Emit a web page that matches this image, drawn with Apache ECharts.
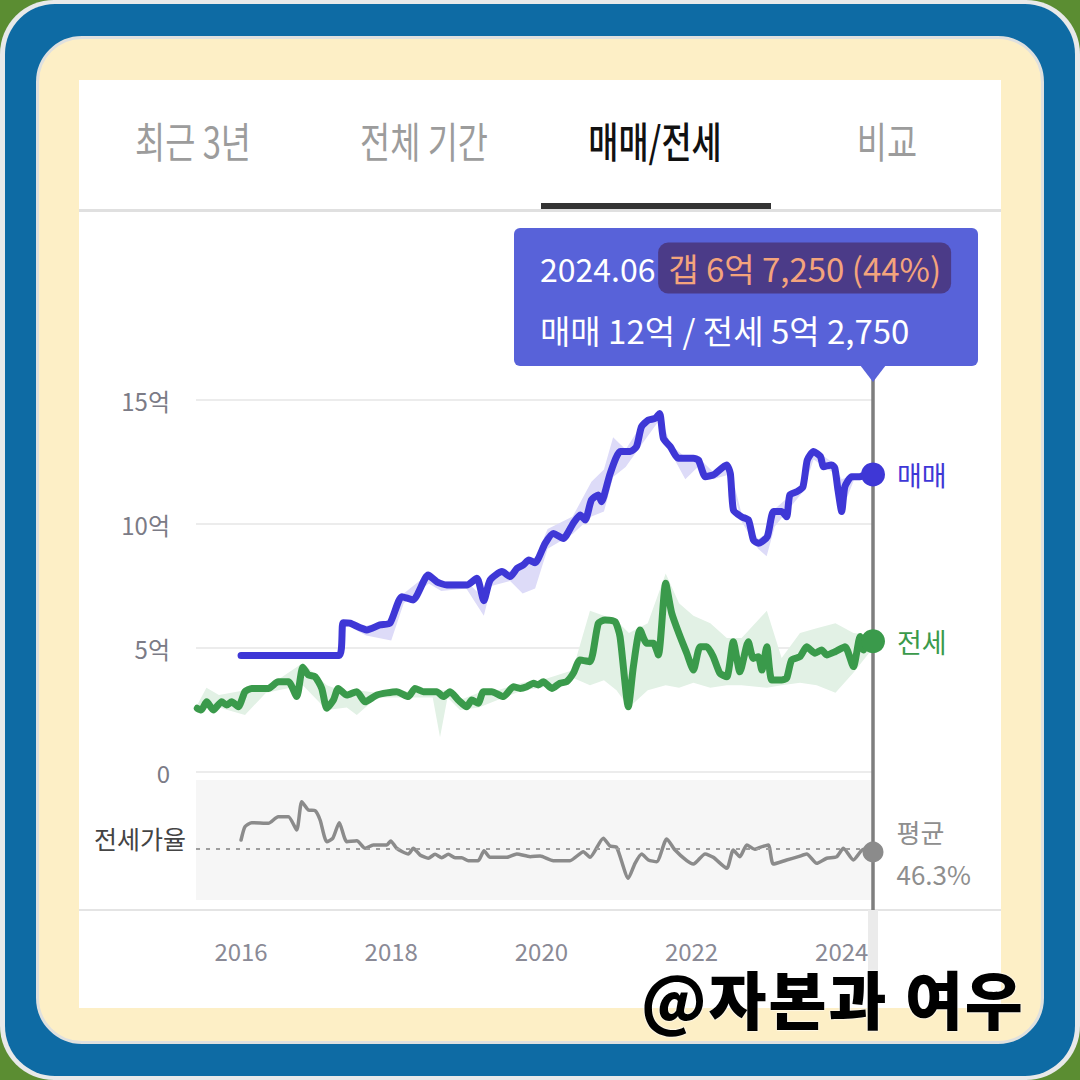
<!DOCTYPE html>
<html><head><meta charset="utf-8">
<script src="https://cdn.jsdelivr.net/npm/echarts@6/dist/echarts.min.js"></script>
<style>
html,body{margin:0;padding:0;width:1080px;height:1080px;overflow:hidden;background:#5b8d32;font-family:"Noto Sans CJK KR","Noto Sans",sans-serif;}
#outer{position:absolute;left:0;top:0;width:1080px;height:1080px;border-radius:54px;background:#e8e9e9;}
#blue{position:absolute;left:5px;top:4px;right:5px;bottom:4px;border-radius:50px;background:#0e6ba4;}
#cream{position:absolute;left:36px;top:36px;width:1002px;height:1002px;border:3px solid #dfe0de;border-radius:46px;background:#fdefc6;}
#panel{position:absolute;left:79px;top:80px;width:922px;height:928px;background:#fff;}
.tab{position:absolute;top:112px;height:56px;line-height:56px;font-size:42px;color:#9c9c9c;transform:translateX(-50%) scaleX(0.78);white-space:nowrap;}
.tab.on{color:#111;font-weight:500;}
#bar{position:absolute;left:541px;top:203px;width:230px;height:6px;background:#333;}
#divider{position:absolute;left:79px;top:209px;width:922px;height:3px;background:#e0e0e0;}
#bottomline{position:absolute;left:79px;top:909px;width:922px;height:2px;background:#e4e4e4;}
#chart{position:absolute;left:0;top:0;width:1080px;height:1080px;}
#mark{position:absolute;left:641px;top:973px;height:48px;line-height:48px;font-size:63px;font-weight:900;color:#000;white-space:nowrap;letter-spacing:2px;
  text-shadow:0 0 2px #fff,0 0 2px #fff;}
</style></head>
<body>
<div id="outer"></div><div id="blue"></div><div id="cream"></div><div id="panel"></div>
<div id="tabs"></div>
<div id="bar"></div><div id="divider"></div><div id="bottomline"></div>
<div id="chart"></div>
<div id="mark">@자본과 여우</div>
<script>
// ---------- data ----------
const tabs = ['최근 3년', '전체 기간', '매매/전세', '비교'];
const activeTab = 2;
const yearTicks = [2016, 2018, 2020, 2022, 2024];
const priceTicks = [0, 5, 10, 15];
const ratioAvg = 46.3;

// 매매 (억)
const maemae = [
['2016-01-01',4.70],['2017-04-22',4.70],['2017-05-10',6.02],['2017-06-13',6.00],['2017-09-04',5.73],
['2017-11-07',5.93],['2017-12-25',6.00],['2018-02-22',7.07],['2018-04-16',6.94],['2018-06-28',7.94],
['2018-08-10',7.67],['2018-09-28',7.54],['2019-01-04',7.54],['2019-02-22',7.81],['2019-03-25',6.91],
['2019-04-25',7.74],['2019-06-22',8.08],['2019-08-01',7.88],['2019-09-04',8.21],['2019-10-04',8.35],
['2019-11-01',8.55],['2019-12-01',8.44],['2020-01-19',9.22],['2020-02-28',9.62],['2020-04-16',9.42],
['2020-06-04',10.03],['2020-07-07',10.36],['2020-08-01',10.16],['2020-09-01',10.97],['2020-10-04',11.17],
['2020-10-19',10.90],['2020-12-01',12.04],['2021-01-19',12.92],['2021-03-07',12.92],['2021-04-07',13.12],
['2021-05-01',13.92],['2021-06-04',14.19],['2021-07-07',14.26],['2021-07-28',14.46],['2021-08-16',13.45],
['2021-09-19',13.12],['2021-10-28',12.65],['2022-01-10',12.65],['2022-02-04',12.58],['2022-03-07',11.91],
['2022-04-16',11.98],['2022-06-19',12.38],['2022-07-07',12.04],['2022-07-22',10.56],['2022-09-01',10.29],
['2022-10-04',10.16],['2022-10-28',9.35],['2022-11-22',9.22],['2023-01-04',9.49],['2023-02-04',10.50],
['2023-03-13',10.50],['2023-04-07',10.29],['2023-04-22',11.17],['2023-05-25',11.30],['2023-06-25',11.50],
['2023-07-16',12.58],['2023-08-16',12.92],['2023-09-19',12.72],['2023-10-04',12.31],['2023-11-13',12.38],
['2023-11-28',12.25],['2023-12-13',11.37],['2024-01-01',10.50],['2024-01-16',11.50],['2024-02-19',11.91],
['2024-03-28',11.91],['2024-04-22',11.98],['2024-06-01',12.00]
];

// 전세 (억)
const jeonse = [
['2015-06-01',2.57],['2015-06-20',2.50],['2015-07-16',2.83],['2015-08-18',2.50],['2015-09-28',2.83],
['2015-10-22',2.70],['2015-11-16',2.83],['2015-12-18',2.63],['2016-01-20',3.24],['2016-02-22',3.37],
['2016-05-12',3.37],['2016-06-29',3.64],['2016-08-18',3.64],['2016-09-28',3.04],['2016-10-27',4.22],
['2016-11-24',3.91],['2016-12-26',3.84],['2017-01-28',3.37],['2017-02-22',2.57],['2017-03-24',2.90],
['2017-04-17',3.37],['2017-05-28',3.10],['2017-07-16',3.24],['2017-08-26',2.83],['2017-10-22',3.10],
['2018-01-27',3.24],['2018-03-23',3.04],['2018-04-25',3.37],['2018-06-05',3.24],['2018-08-09',3.24],
['2018-09-11',3.04],['2018-10-13',3.24],['2018-11-23',2.90],['2019-01-03',2.63],['2019-01-27',2.90],
['2019-02-28',2.77],['2019-03-23',3.24],['2019-05-03',3.24],['2019-06-29',3.04],['2019-08-17',3.44],
['2019-09-19',3.37],['2019-10-21',3.44],['2019-11-23',3.58],['2019-12-16',3.51],['2020-01-10',3.64],
['2020-02-21',3.37],['2020-03-30',3.58],['2020-05-02',3.64],['2020-06-04',3.98],['2020-07-06',4.52],
['2020-08-24',4.45],['2020-10-04',6.00],['2020-11-06',6.13],['2020-12-24',6.06],['2021-01-18',5.46],
['2021-02-28',2.63],['2021-03-22',4.25],['2021-04-24',5.73],['2021-05-26',5.19],['2021-06-28',5.19],
['2021-07-22',4.72],['2021-08-27',7.61],['2021-09-26',6.40],['2021-11-06',5.46],['2021-12-08',4.79],
['2022-01-10',4.11],['2022-02-12',5.05],['2022-03-14',5.05],['2022-04-15',4.65],['2022-05-17',3.98],
['2022-06-20',3.84],['2022-07-21',5.25],['2022-08-23',4.04],['2022-10-03',5.25],['2022-10-27',4.58],
['2022-11-21',4.65],['2022-12-08',4.11],['2023-01-02',5.05],['2023-01-26',3.71],['2023-03-13',3.71],
['2023-04-07',3.78],['2023-05-01',4.52],['2023-06-11',4.65],['2023-07-13',5.05],['2023-08-23',4.79],
['2023-09-25',4.92],['2023-10-19',4.72],['2023-11-29',4.85],['2024-01-17',5.05],['2024-02-27',4.25],
['2024-03-29',5.46],['2024-04-15',4.92],['2024-05-01',5.46],['2024-06-01',5.275]
];

// 전세가율 (%)
const ratio = [
['2016-01-01',53],['2016-01-20',63],['2016-02-22',66],['2016-05-12',65.5],['2016-06-29',70.5],
['2016-08-18',70.5],['2016-09-28',60.5],['2016-10-22',81.7],['2016-11-24',75.5],['2016-12-26',75],
['2017-01-20',68],['2017-02-22',51.7],['2017-03-21',54.3],['2017-04-22',66],['2017-05-28',51.7],
['2017-07-16',52.5],['2017-08-26',46.8],['2017-10-05',49.3],['2017-12-10',49.3],['2017-12-29',52.3],
['2018-01-27',46.8],['2018-03-23',42.5],['2018-04-17',46.8],['2018-05-19',41.8],['2018-06-29',39.3],
['2018-08-01',42.3],['2018-09-03',39.7],['2018-10-05',42.3],['2018-11-07',39.7],['2018-12-09',39.7],
['2019-01-11',37.5],['2019-02-28',37.5],['2019-03-26',45],['2019-04-25',40],['2019-07-15',40],
['2019-09-03',42.5],['2019-11-07',40.5],['2019-12-25',41],['2020-02-28',37.5],['2020-05-18',37.5],
['2020-07-22',44.2],['2020-08-24',40],['2020-10-28',54.3],['2020-11-30',48.5],['2021-01-02',47.5],
['2021-02-28',24.3],['2021-03-30',35.5],['2021-05-02',42.5],['2021-06-04',38],['2021-07-14',36.7],
['2021-09-02',53.8],['2021-10-12',45.5],['2021-12-08',37.5],['2022-01-10',35],['2022-03-06',42.5],
['2022-04-15',40],['2022-06-20',31.8],['2022-07-21',45.5],['2022-08-23',40.5],['2022-09-26',49.3],
['2022-11-05',46],['2022-11-29',47.5],['2023-01-09',49.3],['2023-02-03',35],['2023-04-07',38],
['2023-06-03',40.5],['2023-07-13',42.5],['2023-09-01',35.5],['2023-10-19',39.3],['2023-12-07',40.5],
['2024-01-09',46.8],['2024-02-27',38],['2024-04-15',46],['2024-06-01',44]
];

// ranges [date, low, high] (억)
const maemaeBand = [
['2017-05-10',6.0,6.05],['2017-09-01',5.5,5.9],['2018-01-01',5.3,6.1],['2018-03-01',6.8,7.2],
['2018-07-01',7.6,8.0],['2018-09-01',7.3,7.7],['2019-01-01',7.4,7.7],['2019-03-25',6.3,7.0],
['2019-05-01',7.5,7.9],['2019-08-01',7.7,8.1],['2019-10-01',7.2,8.4],['2019-12-01',7.4,8.6],
['2020-02-01',9.0,9.8],['2020-06-01',9.6,10.3],['2020-09-01',10.3,11.7],['2020-11-01',10.5,12.2],
['2020-12-15',11.9,13.5],['2021-02-15',12.3,13.0],['2021-05-01',13.2,14.0],['2021-07-28',14.2,14.5],
['2021-09-20',12.9,13.2],['2021-12-01',11.8,12.7],['2022-02-01',12.3,12.7],['2022-04-15',11.8,12.1],
['2022-07-01',12.0,12.4],['2022-09-01',10.1,10.4],['2022-11-20',9.0,9.4],['2023-01-01',8.7,9.6],
['2023-02-10',9.9,10.6],['2023-06-25',11.3,11.6],['2023-08-16',12.6,13.0],['2023-11-15',12.1,12.5],
['2024-01-01',10.5,11.8],['2024-03-01',11.8,12.0],['2024-06-01',12.0,12.0]
];
const jeonseBand = [
['2015-06-01',2.5,2.7],['2015-07-15',2.6,3.4],['2015-09-15',2.6,3.1],['2016-01-20',2.3,3.3],
['2016-05-01',3.2,3.4],['2016-10-27',3.5,4.4],['2017-02-22',2.5,3.5],['2017-05-28',2.6,3.2],
['2017-07-16',2.3,3.3],['2017-10-22',3.0,3.2],['2018-07-20',3.0,3.3],['2018-08-25',1.4,3.3],
['2018-10-01',3.0,3.3],['2018-12-01',2.5,2.9],['2019-03-01',2.6,3.2],['2019-06-01',2.9,3.3],
['2019-10-01',3.3,3.6],['2020-01-01',3.4,3.7],['2020-06-01',3.8,4.1],['2020-08-24',3.5,6.5],
['2020-11-01',3.7,6.3],['2021-01-01',3.3,6.1],['2021-03-01',2.6,5.6],['2021-06-01',3.3,6.0],
['2021-08-27',3.5,8.0],['2021-11-01',3.4,6.8],['2022-01-10',3.6,6.3],['2022-04-01',3.4,6.0],
['2022-06-20',3.5,5.4],['2022-09-01',3.5,5.4],['2023-01-02',3.4,6.5],['2023-03-13',3.5,4.6],
['2023-06-11',3.6,5.6],['2023-09-01',3.5,5.8],['2023-12-01',3.2,6.0],['2024-02-27',4.0,5.6],
['2024-06-01',5.0,5.5]
];

// ---------- helpers ----------
const BLUE = '#3e37d6', GREEN = '#3a9a4b', GRAY = '#8b8b8b', FONT = '"Noto Sans CJK KR","Noto Sans",sans-serif';
function toT(s){ const p = s.split('-').map(Number); return p[0] + (p[1]-1)/12 + ((p[2]||1)-1)/360; }
const pts = arr => arr.map(d => [toT(d[0]), d[1]]);
function fmtEok(v){ const e = Math.floor(v + 1e-9); const man = Math.round((v - e) * 10000);
  return man ? e + '억 ' + man.toLocaleString('en-US') : e + '억'; }

// tabs
const tabX = [193, 424, 655, 887];
const tabsEl = document.getElementById('tabs');
tabs.forEach((t, i) => { const d = document.createElement('div'); d.className = 'tab' + (i === activeTab ? ' on' : '');
  d.style.left = tabX[i] + 'px'; d.textContent = t; tabsEl.appendChild(d); });

const lastM = maemae[maemae.length-1], lastJ = jeonse[jeonse.length-1], lastR = ratio[ratio.length-1];
const lastT = toT(lastM[0]);
const dateLabel = lastM[0].slice(0,7).replace('-', '.');
const gapText = '갭 ' + fmtEok(lastM[1] - lastJ[1]) + ' (' + Math.round(lastJ[1] / lastM[1] * 100) + '%)';
const line2 = '매매 ' + fmtEok(lastM[1]) + ' / 전세 ' + fmtEok(lastJ[1]);

function band(data, color){
  return { type:'custom', xAxisIndex:0, yAxisIndex:0, z:1, silent:true, clip:false,
    data:[[toT(data[0][0]), data[0][1]]],
    renderItem:(params, api) => {
      const up = data.map(b => api.coord([toT(b[0]), b[2]]));
      const lo = data.map(b => api.coord([toT(b[0]), b[1]])).reverse();
      return { type:'polygon', shape:{ points: up.concat(lo) }, style:{ fill: color } };
    } };
}

const chart = echarts.init(document.getElementById('chart'), null, { renderer:'svg', width:1080, height:1080 });
const xMin = 2015.4;
chart.setOption({
  animation:false,
  textStyle:{ fontFamily: FONT },
  grid:[
    { left:196, right:207, top:400, height:372 },
    { left:196, right:207, top:780, height:120, show:true, backgroundColor:'#f6f6f6', borderWidth:0 }
  ],
  xAxis:[
    { type:'value', gridIndex:0, min:xMin, max:lastT, axisLabel:{show:false}, axisLine:{show:false}, axisTick:{show:false}, splitLine:{show:false} },
    { type:'value', gridIndex:1, min:xMin, max:lastT, axisLine:{show:false}, axisTick:{show:false}, splitLine:{show:false},
      axisLabel:{ customValues: yearTicks, formatter: v => String(Math.round(v)), color:'#8a8a96', fontSize:24, margin:38, fontFamily:FONT } }
  ],
  yAxis:[
    { type:'value', gridIndex:0, min:priceTicks[0], max:priceTicks[priceTicks.length-1], interval:5,
      axisLine:{show:false}, axisTick:{show:false},
      splitLine:{ lineStyle:{ color:'#ececec', width:2 } },
      axisLabel:{ formatter: v => v === 0 ? '0' : v + '억', color:'#7b7b86', fontSize:24, margin:26, fontFamily:FONT } },
    { type:'value', gridIndex:1, min:8, max:98, show:false, splitLine:{show:false} }
  ],
  series:[
    band(maemaeBand, '#dddbf8'),
    band(jeonseBand, '#e2f1e5'),
    { type:'line', xAxisIndex:0, yAxisIndex:0, data: pts(jeonse), symbol:'none', smooth:0.2, clip:false, z:3,
      lineStyle:{ color:GREEN, width:7, cap:'round', join:'round' } },
    { type:'line', xAxisIndex:0, yAxisIndex:0, data: pts(maemae), symbol:'none', smooth:0.2, clip:false, z:4,
      lineStyle:{ color:BLUE, width:7, cap:'round', join:'round' } },
    { type:'line', xAxisIndex:1, yAxisIndex:1, data: pts(ratio), symbol:'none', smooth:0.2, clip:false, z:3,
      lineStyle:{ color:GRAY, width:3.5, cap:'round', join:'round' },
      markLine:{ silent:true, symbol:['none','none'], label:{show:false},
        lineStyle:{ type:[4,6], color:'#9e9e9e', width:2 }, data:[{ yAxis: ratioAvg }] } },
    { type:'scatter', xAxisIndex:0, yAxisIndex:0, data:[[lastT, lastM[1]]], symbolSize:24, clip:false, z:6,
      itemStyle:{ color:BLUE, opacity:1 },
      label:{ show:true, position:'right', distance:12, formatter:'매매', color:BLUE, fontSize:27, fontFamily:FONT } },
    { type:'scatter', xAxisIndex:0, yAxisIndex:0, data:[[lastT, lastJ[1]]], symbolSize:24, clip:false, z:6,
      itemStyle:{ color:GREEN, opacity:1 },
      label:{ show:true, position:'right', distance:12, formatter:'전세', color:GREEN, fontSize:27, fontFamily:FONT } },
    { type:'scatter', xAxisIndex:1, yAxisIndex:1, data:[[lastT, lastR[1]]], symbolSize:21, clip:false, z:6,
      itemStyle:{ color:GRAY, opacity:1 },
      label:{ show:true, position:'right', distance:13, formatter:'평균\n' + ratioAvg + '%', color:'#8e8e8e',
        fontSize:26, lineHeight:42, offset:[0,0], fontFamily:FONT } }
  ]
});

const cx = chart.convertToPixel({ xAxisIndex:0 }, lastT);
const boxR = cx + 105, boxL = boxR - 464;
chart.setOption({
  graphic:[
    { type:'rect', z:1, silent:true, shape:{ x:cx-5, y:910, width:10, height:98 }, style:{ fill:'#ebebeb' } },
    { type:'line', z:1, silent:true, shape:{ x1:cx, y1:372, x2:cx, y2:910 }, style:{ stroke:'#7e7e7e', lineWidth:3.5 } },
    { type:'text', z:10, silent:true, x:186, y:838, style:{ text:'전세가율', fill:'#444', fontSize:25, fontFamily:FONT, align:'right', verticalAlign:'middle' } },
    { type:'rect', z:100, silent:true, shape:{ x:boxL, y:228, width:464, height:138, r:6 }, style:{ fill:'#5862d9' } },
    { type:'polygon', z:100, silent:true, shape:{ points:[[cx-13,365],[cx+13,365],[cx,382]] }, style:{ fill:'#5862d9' } },
    { type:'text', z:101, silent:true, x:boxL+26, y:268, style:{
        text:'{d|' + dateLabel + '} {g|' + gapText + '}', verticalAlign:'middle', fontFamily:FONT,
        rich:{ d:{ fill:'#ffffff', fontSize:32, fontFamily:FONT },
               g:{ fill:'#f4a47c', fontSize:33, fontFamily:FONT, backgroundColor:'#4b3b88', borderRadius:10, padding:[9,10,9,10] } } } },
    { type:'text', z:101, silent:true, x:boxL+26, y:330, style:{ text: line2, fill:'#ffffff', fontSize:33, fontFamily:FONT, verticalAlign:'middle' } }
  ]
});
</script>
</body></html>
